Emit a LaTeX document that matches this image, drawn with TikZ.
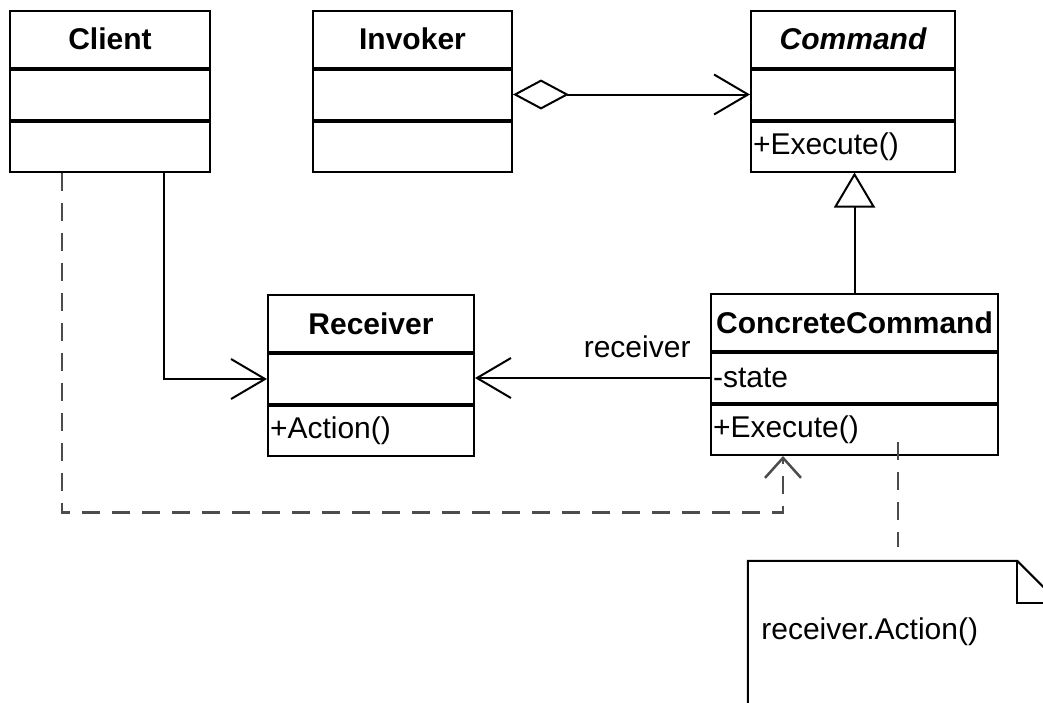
\documentclass[tikz,border=0pt]{standalone}
\usepackage{fontspec}
\setmainfont{Liberation Sans}
\usepackage{tikz}
\usetikzlibrary{arrows.meta,positioning}

\begin{document}
\begin{tikzpicture}[x=1pt,y=-1pt,node distance=0pt,every node/.style={font=\fontsize{30}{36}\selectfont}]
\tikzstyle{hd}=[draw,line width=2pt,minimum height=57pt,inner sep=0pt,font=\fontsize{30}{36}\selectfont\bfseries]
\tikzstyle{pt}=[draw,line width=2pt,minimum height=50pt,inner xsep=2pt,inner ysep=0pt,align=left]
\tikzstyle{ln}=[line width=2pt]
\tikzstyle{barb}=[-{Straight Barb[length=34pt,width=40pt]}]
\tikzstyle{dep}=[line width=2.5pt,draw=black!70,dash pattern=on 18pt off 12pt]
\useasboundingbox (0,0) rectangle (1043,702);
\clip (0,0) rectangle (1043,702);
\node[hd,minimum width=200pt](clientT) at (110,39){Client};
\node[pt,text width=196pt,below=of clientT](clientA){};
\node[pt,text width=196pt,below=of clientA](clientO){};
\node[hd,minimum width=199pt](invT) at (412.5,39){Invoker};
\node[pt,text width=195pt,below=of invT](invA){};
\node[pt,text width=195pt,below=of invA](invO){};
\node[hd,minimum width=204pt,font=\fontsize{30}{36}\selectfont\bfseries\itshape](cmdT) at (853,39){Command};
\node[pt,text width=200pt,below=of cmdT](cmdA){};
\node[pt,text width=200pt,below=of cmdA](cmdO){+Execute()};
\node[hd,minimum width=206pt](recT) at (371,323.5){Receiver};
\node[pt,text width=202pt,below=of recT](recA){};
\node[pt,text width=202pt,below=of recA](recO){+Action()};
\node[hd,minimum width=287pt](ccT) at (854.5,322.5){ConcreteCommand};
\node[pt,text width=283pt,below=of ccT](ccA){-state};
\node[pt,text width=283pt,below=of ccA](ccO){+Execute()};
\node[minimum width=311pt,minimum height=170pt](note) at (903.5,646){};
\node[right](noteTxt) at ([xshift=10pt,yshift=14pt]note.west){receiver.Action()};
\foreach \c in {clientA,invA,cmdA,recA}
  \draw[line width=4pt](\c.south west)--(\c.south east);
\draw[ln](note.north west)--([xshift=-42pt]note.north east)--([yshift=-42pt]note.north east)--(note.south east)--(note.south west)--cycle;
\draw[ln]([xshift=-42pt]note.north east)|-([yshift=-42pt]note.north east);
\draw[ln,{Diamond[open,length=56pt,width=30pt]}-{Straight Barb[length=34pt,width=40pt]}](invA.east)--(cmdA.west);
\draw[ln,-{Triangle[open,length=35pt,width=41pt]}](ccT.north)--(ccT.north|-cmdO.south);
\draw[ln,barb]([xshift=54pt]clientO.south)|-(recA.west);
\draw[ln,barb](ccA.west)--node[pos=.31,above=16pt](lblRcv){receiver}(ccA.west-|recA.east);
\draw[dep,-{Straight Barb[length=20pt,width=36pt]}]([xshift=-48pt]clientO.south)--++(0,340)-|([xshift=-71.5pt]ccO.south);
\draw[dep]([xshift=43.5pt,yshift=14pt]ccO.south)--([xshift=43.5pt,yshift=14pt]ccO.south|-note.north);
\end{tikzpicture}
\end{document}
